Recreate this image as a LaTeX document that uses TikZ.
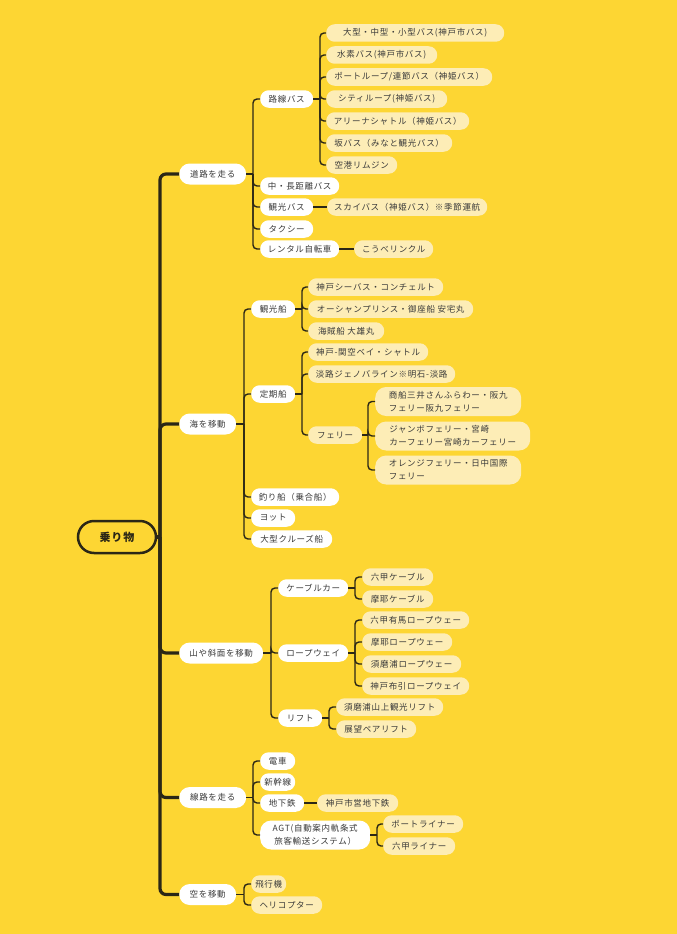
\documentclass[tikz,border=0pt]{standalone}
\usepackage{fontspec}
\newfontfamily\jp[LetterSpace=8]{Noto Sans CJK JP}
\definecolor{bg}{HTML}{FDD633}
\definecolor{cream}{HTML}{FDEDB6}
\definecolor{ln}{HTML}{2B2716}
\definecolor{txt}{HTML}{3A3A3A}
\begin{document}
\begin{tikzpicture}[x=1pt,y=-1pt,
  base/.style={rounded corners=8.5pt, minimum height=17.5pt, inner sep=0pt, anchor=west,
    font=\jp\fontsize{8.5}{13}\selectfont, text=txt},
  wpill/.style={base, fill=white},
  cpill/.style={base, fill=cream},
  lpill/.style={base, fill=white, minimum height=21pt, rounded corners=10.5pt},
  conn/.style={draw=ln, line width=1.4pt, rounded corners=4pt},
  trunk/.style={draw=ln, line width=3.2pt, rounded corners=6pt}]
\fill[bg] (0,0) rectangle (677,934);
\useasboundingbox (0,0) rectangle (677,934);

% root
\node[draw=ln, line width=2.5pt, rounded corners=16pt, minimum width=78pt, minimum height=32pt,
  fill=bg, inner sep=0pt, text=ln, font=\jp\fontsize{11}{13}\selectfont\bfseries] (root) at (117,537) {乗り物};

% level 1
\node[lpill, minimum width=67pt] (l1a) at (179,174) {道路を走る};
\node[lpill, minimum width=57pt] (l1b) at (179,424) {海を移動};
\node[lpill, minimum width=84pt] (l1c) at (179,653) {山や斜面を移動};
\node[lpill, minimum width=67pt] (l1d) at (179,797.5) {線路を走る};
\node[lpill, minimum width=57pt] (l1e) at (179,894.5) {空を移動};

\coordinate (t) at (160,537);
\draw[trunk] (root.east) -- (t);
\foreach \n in {l1a,l1b,l1c,l1d,l1e} \draw[trunk] (t) |- (\n.west);

% ===== 道路を走る
\node[wpill, minimum width=53pt] (rosen) at (260,99) {路線バス};
\node[wpill, minimum width=79pt] (chuu) at (260,186) {中・長距離バス};
\node[wpill, minimum width=53pt] (kankob) at (260,207) {観光バス};
\node[wpill, minimum width=53pt] (taxi) at (260,229) {タクシー};
\node[wpill, minimum width=79pt] (rental) at (260,249) {レンタル自転車};
\coordinate (ba) at (253,174);
\draw[conn] (l1a.east) -- (ba);
\foreach \n in {rosen,chuu,kankob,taxi,rental} \draw[conn] (ba) |- (\n.west);

\node[cpill, minimum width=178pt] (r1) at (326,33) {大型・中型・小型バス(神戸市バス)};
\node[cpill, minimum width=111pt] (r2) at (326,55) {水素バス(神戸市バス)};
\node[cpill, minimum width=166pt] (r3) at (326,77) {ポートループ/連節バス（神姫バス）};
\node[cpill, minimum width=121pt] (r4) at (326,99) {シティループ(神姫バス)};
\node[cpill, minimum width=143pt] (r5) at (326,121) {アリーナシャトル（神姫バス）};
\node[cpill, minimum width=126pt] (r6) at (326,143) {坂バス（みなと観光バス）};
\node[cpill, minimum width=71pt] (r7) at (326,165) {空港リムジン};
\coordinate (br) at (320,99);
\draw[conn] (rosen.east) -- (br);
\foreach \n in {r1,r2,r3,r4,r5,r6,r7} \draw[conn] (br) |- (\n.west);

\node[cpill, minimum width=160pt] (sky) at (327,207) {スカイバス（神姫バス）※季節運航};
\draw[conn] (kankob.east) -- (sky.west);
\node[cpill, minimum width=79pt] (rinkle) at (354,249) {こうべリンクル};
\draw[conn] (rental.east) -- (rinkle.west);

% ===== 海を移動
\node[wpill, minimum width=44pt] (kankosen) at (251,309) {観光船};
\node[wpill, minimum width=44pt] (teiki) at (251,394) {定期船};
\node[wpill, minimum width=88pt] (tsuri) at (251,497) {釣り船（乗合船）};
\node[wpill, minimum width=44pt] (yacht) at (251,518) {ヨット};
\node[wpill, minimum width=81pt] (cruise) at (251,539) {大型クルーズ船};
\coordinate (bb) at (244,424);
\draw[conn] (l1b.east) -- (bb);
\foreach \n in {kankosen,teiki,tsuri,yacht,cruise} \draw[conn] (bb) |- (\n.west);

\node[cpill, minimum width=135pt] (k1) at (308,287) {神戸シーバス・コンチェルト};
\node[cpill, minimum width=165pt] (k2) at (308,309) {オーシャンプリンス・御座船 安宅丸};
\node[cpill, minimum width=76pt] (k3) at (308,331) {海賊船 大雄丸};
\coordinate (bk) at (302,309);
\draw[conn] (kankosen.east) -- (bk);
\foreach \n in {k1,k2,k3} \draw[conn] (bk) |- (\n.west);

\node[cpill, minimum width=120pt] (t1) at (308,352) {神戸-関空ベイ・シャトル};
\node[cpill, minimum width=147pt] (t2) at (308,374) {淡路ジェノバライン※明石-淡路};
\node[cpill, minimum width=54pt] (ferry) at (308,435) {フェリー};
\coordinate (bt) at (302,394);
\draw[conn] (teiki.east) -- (bt);
\foreach \n in {t1,t2,ferry} \draw[conn] (bt) |- (\n.west);

\node[cpill, minimum width=146pt, minimum height=29pt, rounded corners=11pt, align=left] (f1) at (375,401.5) {商船三井さんふらわー・阪九\\フェリー阪九フェリー};
\node[cpill, minimum width=155pt, minimum height=29pt, rounded corners=11pt, align=left] (f2) at (375,436) {ジャンボフェリー・宮崎\\カーフェリー宮崎カーフェリー};
\node[cpill, minimum width=146pt, minimum height=29pt, rounded corners=11pt, align=left] (f3) at (375,470) {オレンジフェリー・日中国際\\フェリー};
\coordinate (bf) at (368,435);
\draw[conn] (ferry.east) -- (bf);
\foreach \n in {f1,f2,f3} \draw[conn] (bf) |- (\n.west);

% ===== 山や斜面を移動
\node[wpill, minimum width=70pt] (cable) at (278,588) {ケーブルカー};
\node[wpill, minimum width=70pt] (rope) at (278,653) {ロープウェイ};
\node[wpill, minimum width=44pt] (lift) at (278,718) {リフト};
\coordinate (bc) at (271,653);
\draw[conn] (l1c.east) -- (bc);
\foreach \n in {cable,rope,lift} \draw[conn] (bc) |- (\n.west);

\node[cpill, minimum width=71pt] (c1) at (362,577) {六甲ケーブル};
\node[cpill, minimum width=71pt] (c2) at (362,599) {摩耶ケーブル};
\coordinate (bcc) at (355,588);
\draw[conn] (cable.east) -- (bcc);
\foreach \n in {c1,c2} \draw[conn] (bcc) |- (\n.west);

\node[cpill, minimum width=107pt] (p1) at (362,620) {六甲有馬ロープウェー};
\node[cpill, minimum width=90pt] (p2) at (362,642) {摩耶ロープウェー};
\node[cpill, minimum width=99pt] (p3) at (362,664) {須磨浦ロープウェー};
\node[cpill, minimum width=107pt] (p4) at (362,686) {神戸布引ロープウェイ};
\coordinate (bp) at (355,653);
\draw[conn] (rope.east) -- (bp);
\foreach \n in {p1,p2,p3,p4} \draw[conn] (bp) |- (\n.west);

\node[cpill, minimum width=107pt] (q1) at (336,707) {須磨浦山上観光リフト};
\node[cpill, minimum width=80pt] (q2) at (336,729) {展望ペアリフト};
\coordinate (bq) at (329,718);
\draw[conn] (lift.east) -- (bq);
\foreach \n in {q1,q2} \draw[conn] (bq) |- (\n.west);

% ===== 線路を走る
\node[wpill, minimum width=35pt] (densha) at (260,761) {電車};
\node[wpill, minimum width=35pt] (shinkan) at (260,782) {新幹線};
\node[wpill, minimum width=44pt] (chika) at (260,803) {地下鉄};
\node[wpill, minimum width=110pt, minimum height=29pt, rounded corners=11pt, align=center] (agt) at (260,835) {AGT(自動案内軌条式\\旅客輸送システム）};
\coordinate (bd) at (253,797.5);
\draw[conn] (l1d.east) -- (bd);
\foreach \n in {densha,shinkan,chika,agt} \draw[conn] (bd) |- (\n.west);

\node[cpill, minimum width=81pt] (subway) at (317,803) {神戸市営地下鉄};
\draw[conn] (chika.east) -- (subway.west);

\node[cpill, minimum width=80pt] (a1) at (383,824) {ポートライナー};
\node[cpill, minimum width=72pt] (a2) at (383,846) {六甲ライナー};
\coordinate (ba2) at (377,835);
\draw[conn] (agt.east) -- (ba2);
\foreach \n in {a1,a2} \draw[conn] (ba2) |- (\n.west);

% ===== 空を移動
\node[cpill, minimum width=35pt] (plane) at (251,884) {飛行機};
\node[cpill, minimum width=71pt] (heli) at (251,905) {ヘリコプター};
\coordinate (be) at (244,894.5);
\draw[conn] (l1e.east) -- (be);
\foreach \n in {plane,heli} \draw[conn] (be) |- (\n.west);
\end{tikzpicture}
\end{document}
